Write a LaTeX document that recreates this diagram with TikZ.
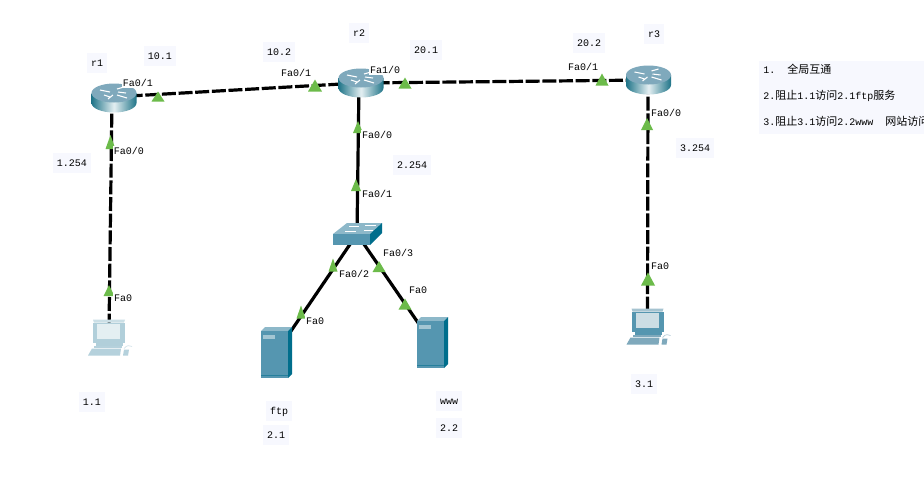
\documentclass[tikz,border=0pt]{standalone}
\usepackage{fontspec}
\setmonofont{Liberation Mono}
\newfontfamily\cjk{Noto Sans CJK SC}
\newcommand{\cjktext}[1]{{\cjk\fontsize{8.25pt}{9pt}\selectfont #1}}
\definecolor{notebg}{HTML}{F7F8FE}
\definecolor{linkgreen}{HTML}{6CBB4A}
\definecolor{rtop}{HTML}{7FA9BC}
\definecolor{rdark}{HTML}{1F7488}
\definecolor{rlight}{HTML}{E4EFF2}
\definecolor{srvfront}{HTML}{5596B0}
\definecolor{srvside}{HTML}{006E8C}
\definecolor{srvtop}{HTML}{8DB8C9}
\definecolor{srvmark}{HTML}{A3C6D3}
\tikzset{
  x=0.75pt,y=-0.75pt,
  dashlink/.style={line width=2.4pt,black,dash pattern=on 10.5pt off 2pt},
  solidlink/.style={line width=2.4pt,black},
  base/.style={font=\ttfamily\fontsize{7.5pt}{9pt}\selectfont,inner sep=0pt,text height=5.5pt,text depth=0.5pt},
  devlabel/.style={base,fill=notebg,minimum height=15.5pt,minimum width=24pt},
  iflabel/.style={base,fill=white,inner xsep=1pt,inner ysep=1pt},
  noteline/.style={base,anchor=west},
  pics/tri/.style n args={2}{code={
    \fill[linkgreen] (-#1,#2) -- (#1,#2) -- (0,-#2) -- cycle;}},
  pics/router/.style={code={
    \shade[left color=rdark,right color=rdark,middle color=rlight]
      (-22.5,-5) -- (-22.5,5) arc[start angle=180,end angle=0,x radius=22.5,y radius=9.5]
      -- (22.5,-5) -- cycle;
    \fill[rtop] (0,-5) ellipse[x radius=22.5,y radius=9.5];
    \draw[white,line width=0.8pt] (-14,-8) -- (-4,-6) (-4,-1) -- (-10,-3)
      (3,-9) -- (10,-11) (3,-3) -- (13,0) (-6,1) -- (-1,-3) (4,-6) -- (12,-5);
  }},
  pics/switchbox/.style={code={
    \fill[srvtop] (-24,0) -- (-10,-11) -- (25,-11) -- (13,0) -- cycle;
    \fill[srvfront] (-24,0) rectangle (13,11);
    \fill[srvside] (13,0) -- (25,-11) -- (25,-1) -- (13,11) -- cycle;
    \draw[white,line width=0.6pt] (-8,-8) -- (2,-8) (8,-9) -- (19,-9)
      (-12,-3) -- (-1,-3) (7,-4) -- (16,-4);
  }},
  pics/server/.style={code={
    \fill[srvtop] (-15,-22) -- (-11,-26) -- (16,-26) -- (12,-22) -- cycle;
    \fill[srvfront] (-15,-22) rectangle (12,25);
    \fill[srvside] (12,-22) -- (16,-26) -- (16,21) -- (12,25) -- cycle;
    \fill[srvmark] (-13,-18) rectangle (-1,-14);
    \draw[srvside!55!srvfront,line width=0.5pt] (-15,22) -- (12,22);
  }},
  pcframe/.store in=\pcframe, pcscreen/.store in=\pcscreen, pckey/.store in=\pckey,
  pics/desktop/.style={code={
    \fill[\pckey!70!white] (-16,-12) -- (16,-12) -- (15,-9) -- (-15,-9) -- cycle;
    \fill[\pcframe] (-16,-9) rectangle (16,11);
    \fill[\pcscreen] (-12,-8) rectangle (11,7);
    \fill[\pcframe] (-13,11) rectangle (14,14);
    \fill[\pckey] (-15,14) rectangle (13,16);
    \fill[\pckey] (-17,17) -- (12,17) -- (11,24) -- (-21,24) -- cycle;
    \fill[\pckey] (15,18) -- (20,18) -- (19,24) -- (14,24) -- cycle;
    \draw[\pckey!60!white,line width=0.5pt] (15,17) .. controls (18,13) and (21,14) .. (23,15);
  }},
}
\begin{document}
\begin{tikzpicture}
\useasboundingbox (0,0) rectangle (924,487);
\fill[white] (0,0) rectangle (924,487);
\fill[notebg] (759,61) rectangle (924,134);

\coordinate (r1) at (112,97);
\coordinate (r2) at (359,83);
\coordinate (r3) at (648,80);
\coordinate (sw) at (357,234);
\coordinate (ftp) at (276,353);
\coordinate (www) at (432,343);
\coordinate (pc1) at (109,331);
\coordinate (pc3) at (647.5,320.5);

\draw[dashlink] (r1) -- (r2);
\draw[dashlink] (r2) -- (r3);
\draw[dashlink] (r1) -- (pc1);
\draw[dashlink] (r3) -- (pc3);
\draw[solidlink] (r2) -- (sw);
\draw[solidlink] (sw) -- (ftp);
\draw[solidlink] (sw) -- (www);

\pic at (158,96.5) {tri={6.5}{5}};
\pic at (315,85.5) {tri={7}{6}};
\pic at (405,83) {tri={6.5}{5.5}};
\pic at (602,79.5) {tri={6.5}{6}};
\pic at (110.5,142) {tri={5}{7}};
\pic at (109,290.5) {tri={5.5}{5.5}};
\pic at (358,127) {tri={5}{6}};
\pic at (356,185) {tri={5}{6}};
\pic at (647,124) {tri={6}{6}};
\pic at (648,279) {tri={7}{6.5}};
\pic at (333,265) {tri={4.5}{6.5}};
\pic at (301,312) {tri={4.5}{6.5}};
\pic at (379,266.5) {tri={6.5}{5.5}};
\pic at (405,304) {tri={6.5}{5.5}};

\pic at (114,98) {router};
\pic at (361,83) {router};
\pic at (648.5,80) {router};
\pic at (357,234) {switchbox};
\pic at (276,353) {server};
\pic at (432,343) {server};
\pic[pcframe=srvmark!85!white,pcscreen=rlight,pckey=srvmark!80!white] at (109,331.5) {desktop};
\pic[pcframe=srvfront,pcscreen=rtop!40!white,pckey=rtop] at (647.5,320.5) {desktop};

\node[devlabel,minimum width=15pt] (l1) at (97,63) {r1};
\node[devlabel] (l2) at (160,56) {10.1};
\node[devlabel] (l3) at (279,52) {10.2};
\node[devlabel,minimum width=15pt] (l4) at (359,33) {r2};
\node[devlabel] (l5) at (426,50) {20.1};
\node[devlabel] (l6) at (589,43) {20.2};
\node[devlabel,minimum width=15pt] (l7) at (654,34) {r3};
\node[devlabel,minimum width=29pt] (l8) at (72,163) {1.254};
\node[devlabel,minimum width=29pt] (l9) at (412,165) {2.254};
\node[devlabel,minimum width=29pt] (l10) at (695,148) {3.254};
\node[devlabel,minimum width=19pt] (l11) at (92,402) {1.1};
\node[devlabel,minimum width=19pt] (l12) at (644,384) {3.1};
\node[devlabel,minimum width=19pt] (l13) at (279,411) {ftp};
\node[devlabel,minimum width=19pt] (l14) at (276,435) {2.1};
\node[devlabel,minimum width=19pt] (l15) at (449,401) {www};
\node[devlabel,minimum width=19pt] (l16) at (449,428) {2.2};

\node[iflabel] (i1) at (138,83) {Fa0/1};
\node[iflabel] (i2) at (129,151) {Fa0/0};
\node[iflabel] (i3) at (296,73) {Fa0/1};
\node[iflabel] (i4) at (385,70) {Fa1/0};
\node[iflabel] (i5) at (583,67) {Fa0/1};
\node[iflabel] (i6) at (377,135) {Fa0/0};
\node[iflabel] (i7) at (377,194) {Fa0/1};
\node[iflabel] (i8) at (354,274) {Fa0/2};
\node[iflabel] (i9) at (398,253) {Fa0/3};
\node[iflabel] (i10) at (315,321) {Fa0};
\node[iflabel] (i11) at (418,290) {Fa0};
\node[iflabel] (i12) at (123,298) {Fa0};
\node[iflabel] (i13) at (666,113) {Fa0/0};
\node[iflabel] (i14) at (660,266) {Fa0};

\node[noteline] (n1) at (763,70) {1.\ \ \cjktext{全局互通}};
\node[noteline] (n2) at (763,96) {2.\cjktext{阻止}1.1\cjktext{访问}2.1ftp\cjktext{服务}};
\node[noteline] (n3) at (763,122) {3.\cjktext{阻止}3.1\cjktext{访问}2.2www\ \ \cjktext{网站访问}};
\end{tikzpicture}
\end{document}
